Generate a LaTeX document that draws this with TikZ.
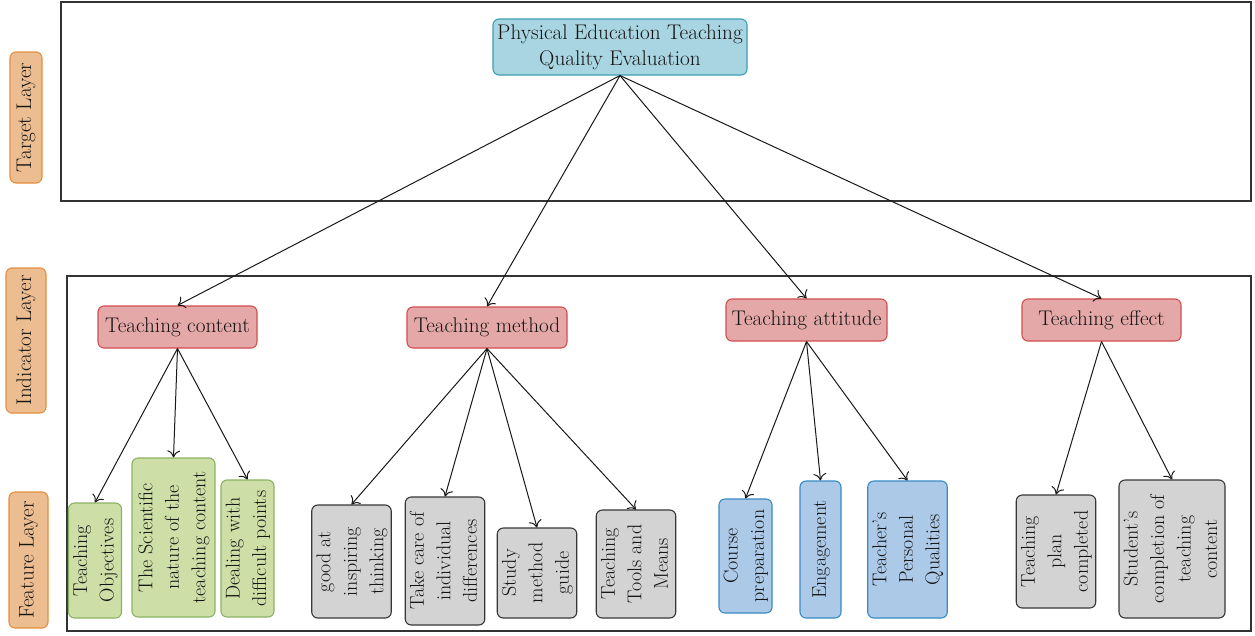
\documentclass[tikz,border=0pt]{standalone}
\usepackage{graphicx}
\usetikzlibrary{arrows.meta}
\definecolor{topfill}{RGB}{168,213,225}
\definecolor{topdraw}{RGB}{58,160,178}
\definecolor{indfill}{RGB}{229,168,168}
\definecolor{inddraw}{RGB}{212,78,78}
\definecolor{grnfill}{RGB}{205,223,166}
\definecolor{grndraw}{RGB}{140,178,100}
\definecolor{blufill}{RGB}{173,201,232}
\definecolor{bludraw}{RGB}{56,138,196}
\definecolor{gryfill}{RGB}{211,211,211}
\definecolor{grydraw}{RGB}{55,55,55}
\definecolor{orgfill}{RGB}{236,189,144}
\definecolor{orgdraw}{RGB}{228,142,62}
\definecolor{txt}{RGB}{20,20,20}
\newcommand{\vtext}[1]{\rotatebox{90}{\fontsize{20}{26.5}\selectfont\begin{tabular}{@{}c@{}}#1\end{tabular}}}
\begin{document}
\begin{tikzpicture}[x=1pt,y=-1pt,
  every node/.style={font=\fontsize{21.2}{26}\selectfont, text=txt, inner sep=0pt},
  box/.style={rectangle, rounded corners=6pt, line width=1.1pt, align=center},
  topbox/.style={box, fill=topfill, draw=topdraw},
  indbox/.style={box, fill=indfill, draw=inddraw},
  grnbox/.style={box, fill=grnfill, draw=grndraw},
  blubox/.style={box, fill=blufill, draw=bludraw},
  grybox/.style={box, fill=gryfill, draw=grydraw},
  orgbox/.style={box, fill=orgfill, draw=orgdraw},
  layer/.style={draw=black!80, line width=1.3pt},
  link/.style={draw=black!90, line width=1pt, -{To[length=7pt,width=13pt]}}
]
\useasboundingbox (0,0) rectangle (1255,635);
\fill[white] (0,0) rectangle (1255,635);

% layer frames
\draw[layer] (61,2) rectangle (1251,201);
\draw[layer] (67,276) rectangle (1251,631);

% side labels
\node[orgbox, minimum width=32, minimum height=131] (tl) at (26,117.5) {\rotatebox{90}{Target Layer}};
\node[orgbox, minimum width=40, minimum height=145] (il) at (26,340.5) {\rotatebox{90}{Indicator Layer}};
\node[orgbox, minimum width=39, minimum height=136] (fl) at (28.5,560) {\rotatebox{90}{Feature Layer}};

% top node
\node[topbox, minimum width=254, minimum height=56] (top) at (620,47) {Physical Education Teaching\\Quality Evaluation};

% indicator nodes
\node[indbox, minimum width=159, minimum height=42] (tc) at (177.5,327) {Teaching content};
\node[indbox, minimum width=160, minimum height=41] (tm) at (487,327.5) {Teaching method};
\node[indbox, minimum width=161, minimum height=42] (ta) at (806.5,320) {Teaching attitude};
\node[indbox, minimum width=159, minimum height=42] (te) at (1101.5,320) {Teaching effect};

% feature nodes
\node[grnbox, minimum width=52, minimum height=115] (f1) at (95,560.5) {\vtext{Teaching\\Objectives}};
\node[grnbox, minimum width=83, minimum height=159] (f2) at (173.5,537.5) {\vtext{The Scientific\\nature of the\\teaching content}};
\node[grnbox, minimum width=53, minimum height=137] (f3) at (247.5,548.5) {\vtext{Dealing with\\difficult points}};

\node[grybox, minimum width=79, minimum height=113] (f4) at (351.5,561.5) {\vtext{good at\\inspiring\\thinking}};
\node[grybox, minimum width=78, minimum height=128] (f5) at (445,561) {\vtext{Take care of\\individual\\differences}};
\node[grybox, minimum width=76, minimum height=90] (f6) at (537,573) {\vtext{Study\\method\\guide}};
\node[grybox, minimum width=76, minimum height=108] (f7) at (636,564) {\vtext{Teaching\\Tools and\\Means}};

\node[blubox, minimum width=49, minimum height=114] (f8) at (745.5,556) {\vtext{Course\\preparation}};
\node[blubox, minimum width=41, minimum height=137] (f9) at (820.5,549.5) {\vtext{Engagement}};
\node[blubox, minimum width=77, minimum height=137] (f10) at (907.5,549.5) {\vtext{Teacher’s\\Personal\\Qualities}};

\node[grybox, minimum width=79, minimum height=113] (f11) at (1056,551.5) {\vtext{Teaching\\plan\\completed}};
\node[grybox, minimum width=106, minimum height=138] (f12) at (1172,549) {\vtext{Student’s\\completion of\\teaching\\content}};

% connectors
\foreach \t in {tc,tm,ta,te} \draw[link] (top.south) -- (\t.north);
\foreach \t in {f1,f2,f3} \draw[link] (tc.south) -- (\t.north);
\foreach \t in {f4,f5,f6,f7} \draw[link] (tm.south) -- (\t.north);
\foreach \t in {f8,f9,f10} \draw[link] (ta.south) -- (\t.north);
\foreach \t in {f11,f12} \draw[link] (te.south) -- (\t.north);
\end{tikzpicture}
\end{document}
